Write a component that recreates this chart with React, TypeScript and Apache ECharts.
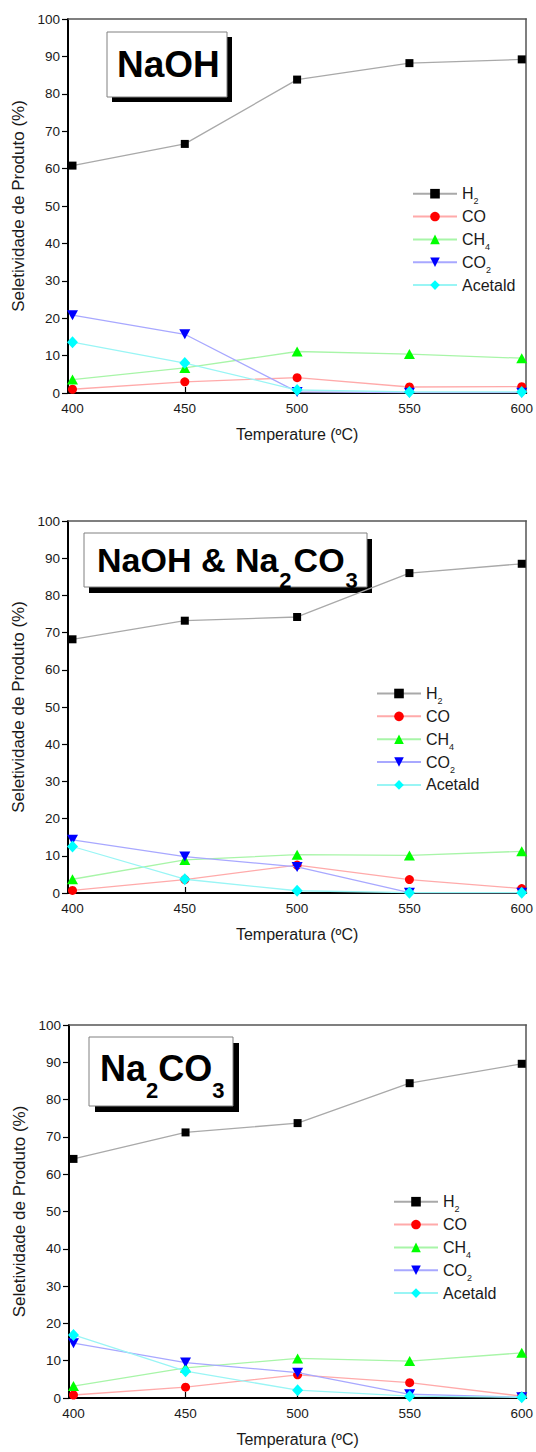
import React, { useEffect, useRef } from 'react';
import * as echarts from 'echarts';

// ---------- data ----------
const temperatures = [400, 450, 500, 550, 600];
const xTickValues = [400, 450, 500, 550, 600];
const seriesNames = ['H2', 'CO', 'CH4', 'CO2', 'Acetald'];

// Panel 1: NaOH
const naohH2 = [60.8, 66.6, 83.8, 88.2, 89.2];
const naohCO = [1.0, 3.0, 4.1, 1.6, 1.7];
const naohCH4 = [3.6, 6.7, 11.1, 10.4, 9.3];
const naohCO2 = [20.8, 15.7, 0.3, 0.1, 0.1];
const naohAcetald = [13.6, 8.0, 0.8, 0.3, 0.3];

// Panel 2: NaOH & Na2CO3
const mixH2 = [68.2, 73.2, 74.2, 86.0, 88.5];
const mixCO = [0.7, 3.6, 7.5, 3.6, 1.2];
const mixCH4 = [3.7, 8.9, 10.3, 10.1, 11.2];
const mixCO2 = [14.3, 9.8, 7.0, 0.1, 0.1];
const mixAcetald = [12.5, 3.7, 0.6, 0.1, 0.1];

// Panel 3: Na2CO3
const carbH2 = [64.1, 71.2, 73.7, 84.4, 89.6];
const carbCO = [0.8, 2.9, 6.2, 4.1, 0.5];
const carbCH4 = [3.2, 8.1, 10.6, 9.9, 12.1];
const carbCO2 = [14.7, 9.5, 6.8, 1.0, 0.2];
const carbAcetald = [16.9, 7.2, 2.1, 0.5, 0.2];

const xAxisNames = ['Temperature (ºC)', 'Temperatura (ºC)', 'Temperatura (ºC)'];
const yAxisName = 'Seletividade de Produto (%)';

const panelData = [
  [naohH2, naohCO, naohCH4, naohCO2, naohAcetald],
  [mixH2, mixCO, mixCH4, mixCO2, mixAcetald],
  [carbH2, carbCO, carbCH4, carbCO2, carbAcetald],
];

// ---------- styles / layout ----------
const FONT = '"Liberation Sans", Arial, Helvetica, sans-serif';
const TXT = '#1a1a1a';

const seriesStyle: Record<string, any> = {
  H2: { marker: '#000000', line: '#a9a9a9', symbol: 'rect', size: 8 },
  CO: { marker: '#ff0000', line: '#ffaaaa', symbol: 'circle', size: 9 },
  CH4: { marker: '#00ff00', line: '#a8f5a8', symbol: 'triangle', size: [11, 10] },
  CO2: { marker: '#0000ff', line: '#a8a8ff', symbol: 'path://M0 0 L10 0 L5 9 Z', size: [11, 10] },
  Acetald: { marker: '#00ffff', line: '#99f5f5', symbol: 'diamond', size: [11, 12] },
};

const grids = [
  { left: 68, top: 19, width: 459, height: 374 },
  { left: 68, top: 521, width: 459, height: 372 },
  { left: 69, top: 1025, width: 458, height: 373 },
];

const legendPos = [
  { left: 412, top: 185.7 },
  { left: 376, top: 685.5 },
  { left: 393, top: 1193.7 },
];

const titles = [
  {
    box: { x: 107, y: 32, w: 120, h: 65 }, shadow: [5, 5], textX: 117, capY: 64,
    pieces: [{ t: 'NaOH', size: 37, dy: 0, gap: 0 }],
  },
  {
    box: { x: 84, y: 533, w: 283, h: 54 }, shadow: [5, 6], textX: 97, capY: 560,
    pieces: [
      { t: 'NaOH & Na', size: 34, dy: 0, gap: 1 },
      { t: '2', size: 22, dy: 20, gap: 2 },
      { t: 'CO', size: 34, dy: 0, gap: 1 },
      { t: '3', size: 22, dy: 20, gap: 0 },
    ],
  },
  {
    box: { x: 89, y: 1037, w: 144, h: 69 }, shadow: [6, 6], textX: 100, capY: 1068,
    pieces: [
      { t: 'Na', size: 36, dy: 0, gap: 0 },
      { t: '2', size: 22, dy: 22, gap: 0 },
      { t: 'CO', size: 36, dy: 0, gap: 0 },
      { t: '3', size: 22, dy: 22, gap: 0 },
    ],
  },
];

let measureCtx: CanvasRenderingContext2D | null = null;
function measure(text: string, size: number): number {
  if (!measureCtx) measureCtx = document.createElement('canvas').getContext('2d');
  if (!measureCtx) return text.length * size * 0.6;
  measureCtx.font = `bold ${size}px "Liberation Sans", Arial, sans-serif`;
  return measureCtx.measureText(text).width;
}

function buildTitle(tt: any) {
  const children: any[] = [
    { type: 'rect', shape: { x: tt.box.x + tt.shadow[0], y: tt.box.y + tt.shadow[1], width: tt.box.w, height: tt.box.h }, style: { fill: '#000' } },
    { type: 'rect', shape: { x: tt.box.x, y: tt.box.y, width: tt.box.w, height: tt.box.h }, style: { fill: '#fff', stroke: '#808080', lineWidth: 1 } },
  ];
  let x = tt.textX;
  tt.pieces.forEach((p: any) => {
    children.push({
      type: 'text',
      x, y: tt.capY + p.dy,
      style: { text: p.t, font: `bold ${p.size}px ${FONT}`, fill: '#000', align: 'left', verticalAlign: 'middle' },
    });
    x += measure(p.t, p.size) + p.gap;
  });
  return { type: 'group', children };
}

function legendFormatter(name: string) {
  const m = name.match(/^(.*?)(\d+)$/);
  if (m) return `{m|${m[1]}}{s|${m[2]}}`;
  return `{m|${name}}{s| }`;
}

function buildOption() {
  const xAxis: any[] = [];
  const yAxis: any[] = [];
  const series: any[] = [];
  const legend: any[] = [];

  grids.forEach((g, i) => {
    xAxis.push({
      type: 'value', gridIndex: i, min: 398, max: 602, position: 'bottom',
      name: xAxisNames[i], nameLocation: 'middle', nameGap: 33,
      nameTextStyle: { fontFamily: FONT, fontSize: 16, color: TXT },
      axisLine: { show: true, onZero: false, lineStyle: { color: '#000', width: 2 } },
      axisTick: { show: true, inside: true, length: 6, customValues: xTickValues, lineStyle: { color: '#000', width: 1.2 } },
      axisLabel: { show: true, customValues: xTickValues, margin: 8, fontFamily: FONT, fontSize: 13.5, color: TXT },
      splitLine: { show: false },
    });
    xAxis.push({
      type: 'value', gridIndex: i, min: 398, max: 602, position: 'top',
      axisLine: { show: true, onZero: false, lineStyle: { color: '#555', width: 1.5 } },
      axisTick: { show: false }, axisLabel: { show: false }, splitLine: { show: false },
    });
    yAxis.push({
      type: 'value', gridIndex: i, min: 0, max: 100, interval: 10, position: 'left',
      name: yAxisName, nameLocation: 'middle', nameGap: 40,
      nameTextStyle: { fontFamily: FONT, fontSize: 17, color: TXT },
      axisLine: { show: true, onZero: false, lineStyle: { color: '#000', width: 2 } },
      axisTick: { show: true, inside: false, length: 6, lineStyle: { color: '#000', width: 1.2 } },
      axisLabel: { show: true, margin: 8, fontFamily: FONT, fontSize: 13.5, color: TXT },
      splitLine: { show: false },
    });
    yAxis.push({
      type: 'value', gridIndex: i, min: 0, max: 100, interval: 10, position: 'right',
      axisLine: { show: true, onZero: false, lineStyle: { color: '#555', width: 1.5 } },
      axisTick: { show: false }, axisLabel: { show: false }, splitLine: { show: false },
    });

    seriesNames.forEach((name, k) => {
      const st = seriesStyle[name];
      series.push({
        type: 'line', name,
        xAxisIndex: i * 2, yAxisIndex: i * 2,
        data: temperatures.map((t, j) => [t, panelData[i][k][j]]),
        symbol: st.symbol, symbolSize: st.size, showAllSymbol: true,
        itemStyle: { color: st.marker },
        lineStyle: { color: st.line, width: 1.3 },
        z: 2 + k,
      });
    });

    legend.push({
      orient: 'vertical', left: legendPos[i].left, top: legendPos[i].top,
      padding: 0, itemWidth: 44, itemHeight: 12, itemGap: 2.85,
      data: seriesNames, selectedMode: false,
      formatter: legendFormatter,
      textStyle: {
        color: TXT, fontFamily: FONT,
        rich: {
          m: { fontSize: 16, lineHeight: 24, verticalAlign: 'middle', fontFamily: FONT, color: TXT },
          s: { fontSize: 9, lineHeight: 9, verticalAlign: 'bottom', fontFamily: FONT, color: TXT },
        },
      },
    });
  });

  return {
    animation: false,
    backgroundColor: '#ffffff',
    grid: grids.map((g) => ({ ...g, containLabel: false })),
    xAxis, yAxis, series, legend,
    graphic: titles.map(buildTitle),
  };
}

export default function App() {
  const ref = useRef<HTMLDivElement>(null);
  useEffect(() => {
    if (!ref.current) return;
    const chart = echarts.init(ref.current, undefined, { renderer: 'svg' });
    chart.setOption(buildOption() as any);
    return () => chart.dispose();
  }, []);
  return (
    <div
      ref={ref}
      style={{ position: 'fixed', left: 0, top: 0, width: 536, height: 1452, background: '#fff' }}
    />
  );
}
